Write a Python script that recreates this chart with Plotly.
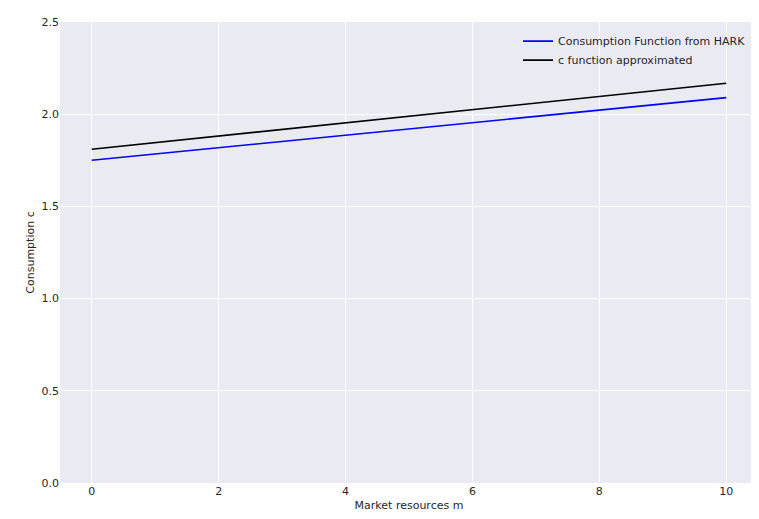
import plotly.graph_objects as go

m = [0, 2, 4, 6, 8, 10]
c_hark = [1.75, 1.818, 1.886, 1.954, 2.022, 2.09]
c_approx = [1.81, 1.882, 1.954, 2.026, 2.098, 2.168]

fig = go.Figure()
fig.add_trace(go.Scatter(x=m, y=c_hark, mode="lines", line=dict(color="blue", width=1.6),
                         name="Consumption Function from HARK"))
fig.add_trace(go.Scatter(x=m, y=c_approx, mode="lines", line=dict(color="black", width=1.6),
                         name="c function approximated"))
fig.update_layout(
    width=759, height=519, paper_bgcolor="white", plot_bgcolor="#EAEAF2",
    margin=dict(l=52, r=9, t=14, b=44),
    font=dict(family="DejaVu Sans", size=11, color="#262626"),
    legend=dict(x=0.99, y=0.99, xanchor="right", yanchor="top", bgcolor="rgba(0,0,0,0)",
                font=dict(size=11)),
    xaxis=dict(range=[-0.5, 10.5], tickvals=[0, 2, 4, 6, 8, 10], gridcolor="white",
               zeroline=False, showline=False, automargin=False,
               title=dict(text="Market resources m", standoff=4, font=dict(size=11))),
    yaxis=dict(range=[0, 2.5], tickvals=[0, 0.5, 1, 1.5, 2, 2.5],
               ticktext=["0.0", "0.5", "1.0", "1.5", "2.0", "2.5"], gridcolor="white",
               zeroline=False, showline=False, automargin=False,
               title=dict(text="Consumption c", standoff=4, font=dict(size=11))),
)
fig.write_html("out.html")
